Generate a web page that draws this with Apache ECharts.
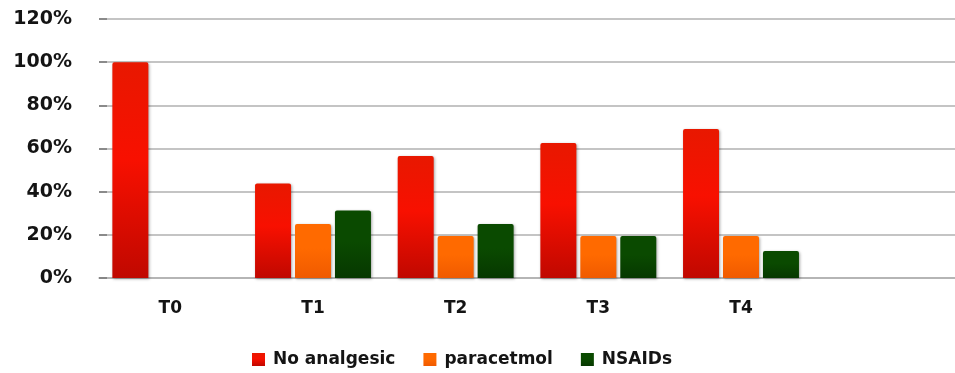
<!DOCTYPE html>
<html>
<head>
<meta charset="utf-8">
<script src="https://cdn.jsdelivr.net/npm/echarts@6/dist/echarts.min.js"></script>
<style>html,body{margin:0;padding:0;background:#fff}#c{width:955px;height:373px}</style>
</head>
<body>
<div id="c"></div>
<script>
var categories = ['T0', 'T1', 'T2', 'T3', 'T4', ''];
var noAnalgesic = [100, 43.75, 56.5, 62.5, 69, null];
var paracetmol = [null, 25, 19.5, 19.5, 19.5, null];
var nsaids = [null, 31.25, 25, 19.5, 12.5, null];
var yTicks = [0, 20, 40, 60, 80, 100, 120];

function grad(top, mid, bottom) {
  return new echarts.graphic.LinearGradient(0, 0, 0, 1, [
    {offset: 0, color: top}, {offset: 0.45, color: mid}, {offset: 1, color: bottom}
  ]);
}
var font = '"DejaVu Sans", sans-serif';
var chart = echarts.init(document.getElementById('c'));
function barStyle(c) {
  return {color: c, borderRadius: [2, 2, 0, 0], shadowColor: 'rgba(0,0,0,0.35)', shadowBlur: 3, shadowOffsetX: 1, shadowOffsetY: 1};
}
chart.setOption({
  animation: false,
  textStyle: {fontFamily: font},
  grid: {left: 99, top: 19, height: 259, width: 864, containLabel: false},
  legend: {
    top: 351, left: 252, padding: 0, itemWidth: 13, itemHeight: 13, itemGap: 28, icon: 'rect',
    textStyle: {fontFamily: font, fontWeight: 'bold', fontSize: 17, color: '#141414', padding: [0, 0, 0, 3]},
    data: ['No analgesic', 'paracetmol', 'NSAIDs']
  },
  xAxis: {
    type: 'category', data: categories,
    axisLine: {lineStyle: {color: '#b0b0b0', width: 1.5}},
    axisTick: {show: false},
    axisLabel: {margin: 22, fontWeight: 'bold', fontSize: 17, color: '#141414', fontFamily: font}
  },
  yAxis: {
    type: 'value', min: yTicks[0], max: yTicks[yTicks.length - 1], interval: 20,
    axisLine: {show: false},
    axisTick: {show: true, inside: true, length: 8, lineStyle: {color: '#777', width: 1.5}},
    splitLine: {lineStyle: {color: '#b0b0b0', width: 1.5}},
    axisLabel: {margin: 27, formatter: '{value}%', fontWeight: 'bold', fontSize: 19, color: '#141414', fontFamily: font}
  },
  series: [
    {name: 'No analgesic', type: 'bar', data: noAnalgesic, barWidth: 36, barGap: '11%',
     itemStyle: barStyle(grad('#e81800', '#f81000', '#c00800'))},
    {name: 'paracetmol', type: 'bar', data: paracetmol, barWidth: 36, barGap: '11%',
     itemStyle: barStyle(grad('#ff6a00', '#ff6a00', '#f05a00'))},
    {name: 'NSAIDs', type: 'bar', data: nsaids, barWidth: 36, barGap: '11%',
     itemStyle: barStyle(grad('#0a4a00', '#0a4a00', '#063800'))}
  ]
});
</script>
</body>
</html>
